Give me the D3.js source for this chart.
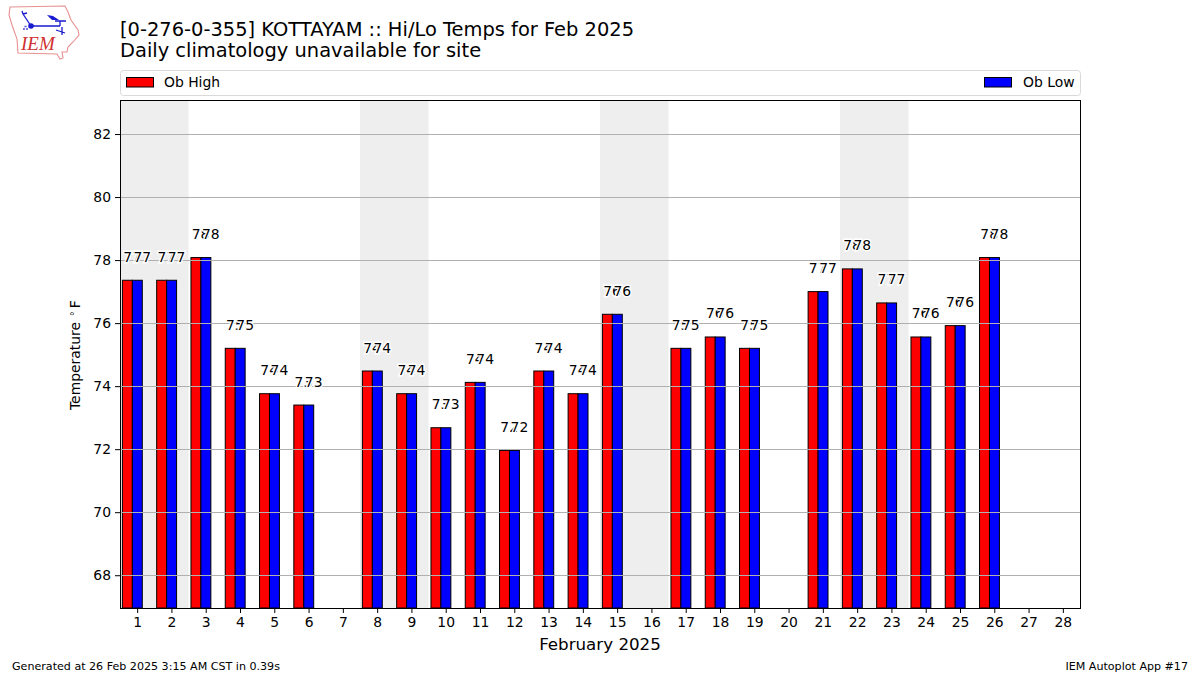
<!DOCTYPE html>
<html>
<head>
<meta charset="utf-8">
<script src="https://cdn.jsdelivr.net/npm/d3@7"></script>
<style>
  html, body { margin: 0; padding: 0; background: #fff; }
  svg { display: block; }
  text { font-family: "DejaVu Sans", sans-serif; fill: #000; }
  .axis .domain { display: none; }
  .axis line { stroke: #000; stroke-width: 1; }
  .axis text { font-size: 13.9px; }
  .val { font-size: 13.9px; text-anchor: middle; stroke: #fff; stroke-width: 2.8px; paint-order: stroke; }
</style>
</head>
<body>
<svg id="svg" width="1200" height="675"></svg>
<script>
const days = d3.range(1, 29);
// null = no observation that day
const obHigh = [77.36, 77.36, 78.08, 75.2, 73.76, 73.4, null, 74.48, 73.76, 72.68, 74.12, 71.96, 74.48, 73.76,
  76.28, null, 75.2, 75.56, 75.2, null, 77, 77.72, 76.64, 75.56, 75.92, 78.08, null, null];
const obLow = [77.36, 77.36, 78.08, 75.2, 73.76, 73.4, null, 74.48, 73.76, 72.68, 74.12, 71.96, 74.48, 73.76,
  76.28, null, 75.2, 75.56, 75.2, null, 77, 77.72, 76.64, 75.56, 75.92, 78.08, null, null];
const weekends = [[0.5, 2.5], [7.5, 9.5], [14.5, 16.5], [21.5, 23.5]];
const yTicks = [68, 70, 72, 74, 76, 78, 80, 82];
const yDomain = [66.96, 83.08];

const plot = { left: 120, right: 1080, top: 100, bottom: 608 };
const svg = d3.select('#svg');

const xScale = d3.scaleLinear().domain([0.5, 28.5]).range([plot.left, plot.right]);
const yScale = d3.scaleLinear().domain(yDomain).range([plot.bottom, plot.top]);
const barDays = 0.29;

// titles
svg.append('text').attr('x', 120).attr('y', 35.5).style('font-size', '19.45px')
  .text('[0-276-0-355] KOTTAYAM :: Hi/Lo Temps for Feb 2025');
svg.append('text').attr('x', 120).attr('y', 56.5).style('font-size', '19.45px')
  .text('Daily climatology unavailable for site');

// logo
const logo = svg.append('g').attr('id', 'logo');
logo.append('path')
  .attr('d', 'M10,7 L65,6 L68,12 L71,20 L78,30 L79,35 L73,42 L68,47 L67,52 L62,52 L63,58 L60,59 L57,54 L18,53 L17,39 L12,25 L9,15 Z')
  .attr('fill', 'none').attr('stroke', '#e89090').attr('stroke-width', 1.1);
logo.append('path')
  .attr('d', 'M31,26 L60,26 M31,26 L23,14 L22,11 M23,14 L27,13 M60,21 L60,26 M55,21 L66,21 M62,27 L62,35 M56,30 L65,33')
  .attr('fill', 'none').attr('stroke', '#1a1ad0').attr('stroke-width', 1.3);
logo.append('path').attr('d', 'M47,15 L53,16 L59,20 L52,20 Z').attr('fill', '#1a1ad0');
logo.append('circle').attr('cx', 31).attr('cy', 26).attr('r', 2.8).attr('fill', '#1a1ad0');
logo.append('path').attr('d', 'M23,29 h2 M26,29 h2 M24.5,26.5 h2').attr('stroke', '#5050d8').attr('stroke-width', 1.6);
logo.append('text').attr('x', 21).attr('y', 50)
  .style('font-family', '"Liberation Serif", serif').style('font-style', 'italic')
  .style('font-size', '19px').style('fill', '#d03030').text('IEM');

// legend box
svg.append('rect').attr('x', 120.5).attr('y', 70.5).attr('width', 960).attr('height', 25).attr('rx', 3)
  .attr('fill', '#fff').attr('stroke', '#d9d9d9');
svg.append('rect').attr('x', 126.5).attr('y', 77.5).attr('width', 27).attr('height', 9.5)
  .attr('fill', '#f00').attr('stroke', '#000');
svg.append('text').attr('x', 164).attr('y', 87).style('font-size', '13.9px').text('Ob High');
svg.append('rect').attr('x', 984.5).attr('y', 77.5).attr('width', 27).attr('height', 9.5)
  .attr('fill', '#00f').attr('stroke', '#000');
svg.append('text').attr('x', 1023).attr('y', 87).style('font-size', '13.9px').text('Ob Low');

// weekend shading
svg.append('g').selectAll('rect').data(weekends).join('rect')
  .attr('x', d => xScale(d[0]))
  .attr('y', plot.top)
  .attr('width', d => xScale(d[1]) - xScale(d[0]))
  .attr('height', plot.bottom - plot.top)
  .attr('fill', '#eeeeee');

// bars
const highData = days.map((d, i) => ({ day: d, v: obHigh[i] })).filter(d => d.v != null);
const lowData = days.map((d, i) => ({ day: d, v: obLow[i] })).filter(d => d.v != null);

svg.append('g').selectAll('rect').data(highData).join('rect')
  .attr('x', d => xScale(d.day - 0.43))
  .attr('y', d => yScale(d.v))
  .attr('width', xScale(1 + barDays) - xScale(1))
  .attr('height', d => plot.bottom - yScale(d.v))
  .attr('fill', '#f00').attr('stroke', '#000').attr('stroke-width', 1);

svg.append('g').selectAll('rect').data(lowData).join('rect')
  .attr('x', d => xScale(d.day - 0.14))
  .attr('y', d => yScale(d.v))
  .attr('width', xScale(1 + barDays) - xScale(1))
  .attr('height', d => plot.bottom - yScale(d.v))
  .attr('fill', '#00f').attr('stroke', '#000').attr('stroke-width', 1);

// grid sits over the bars
svg.append('g').selectAll('line').data(yTicks).join('line')
  .attr('x1', plot.left).attr('x2', plot.right)
  .attr('y1', d => Math.floor(yScale(d)) + 0.5).attr('y2', d => Math.floor(yScale(d)) + 0.5)
  .attr('stroke', '#b0b0b0').attr('stroke-width', 1);

// value labels, white halo so the second label bites into the first
const fmt = d3.format('.0f');
svg.append('g').selectAll('text').data(highData).join('text')
  .attr('class', 'val')
  .attr('x', d => xScale(d.day - 0.15))
  .attr('y', d => yScale(d.v) - 18.5)
  .text(d => fmt(d.v));
svg.append('g').selectAll('text').data(lowData).join('text')
  .attr('class', 'val')
  .attr('x', d => xScale(d.day + 0.15))
  .attr('y', d => yScale(d.v) - 18.5)
  .text(d => fmt(d.v));

// frame
svg.append('rect').attr('x', plot.left + 0.5).attr('y', plot.top + 0.5)
  .attr('width', plot.right - plot.left).attr('height', plot.bottom - plot.top)
  .attr('fill', 'none').attr('stroke', '#000').attr('stroke-width', 1);

// axes
const xAxis = d3.axisBottom(xScale).tickValues(days).tickFormat(d3.format('d')).tickSize(5).tickPadding(4);
const yAxis = d3.axisLeft(yScale).tickValues(yTicks).tickSize(5).tickPadding(4);
svg.append('g').attr('class', 'axis x-axis').attr('transform', `translate(0,${plot.bottom})`).call(xAxis);
svg.append('g').attr('class', 'axis y-axis').attr('transform', `translate(${plot.left},0)`).call(yAxis);

svg.append('text').attr('x', 600).attr('y', 649.5).attr('text-anchor', 'middle')
  .style('font-size', '16.7px').text('February 2025');
const yLabel = svg.append('text').attr('transform', 'translate(80,410) rotate(-90)').style('font-size', '13.9px');
yLabel.append('tspan').text('Temperature');
yLabel.append('tspan').attr('dx', 5.8).attr('dy', -2).style('font-size', '10px').text('\u00B0');
yLabel.append('tspan').attr('dx', 3).attr('dy', 2).text('F');

// footer
svg.append('text').attr('x', 12).attr('y', 670).style('font-size', '11.1px')
  .text('Generated at 26 Feb 2025 3:15 AM CST in 0.39s');
svg.append('text').attr('x', 1188).attr('y', 670).attr('text-anchor', 'end').style('font-size', '11.1px')
  .text('IEM Autoplot App #17');
</script>
</body>
</html>
